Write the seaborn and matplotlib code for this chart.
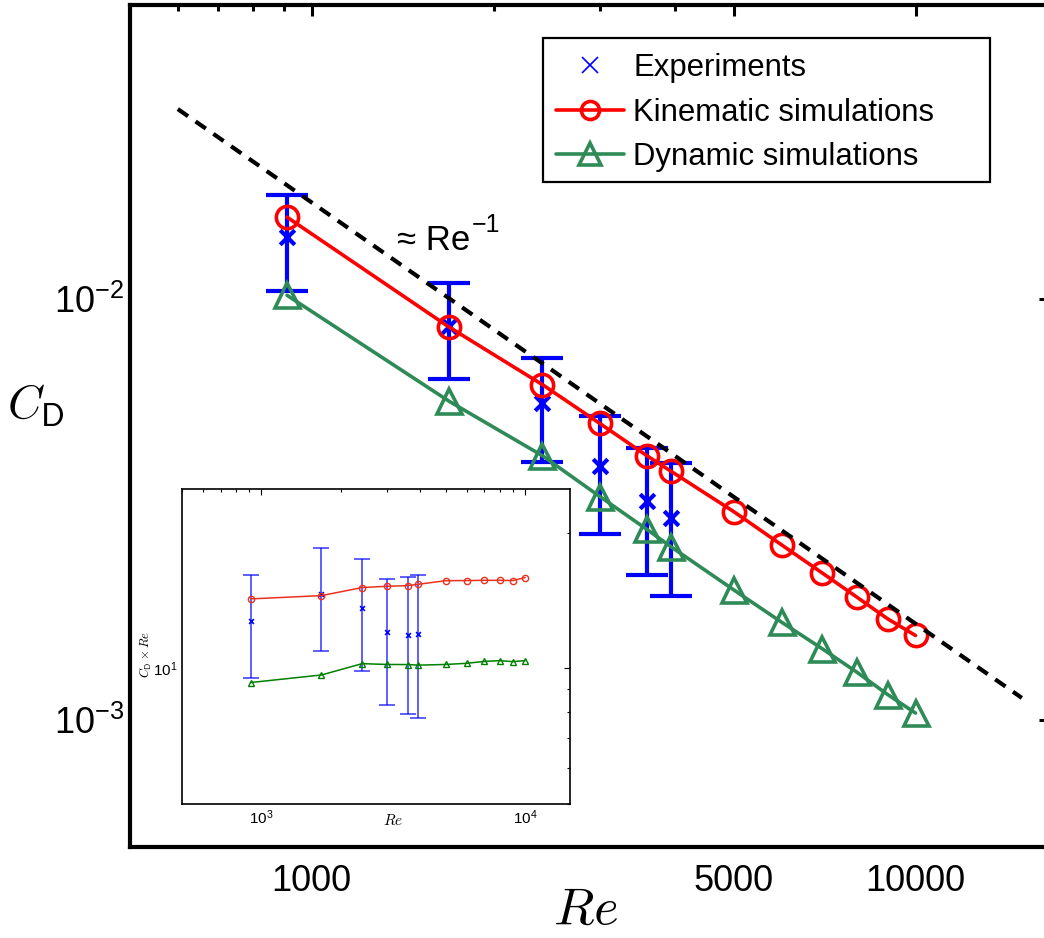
import numpy as np
import matplotlib
matplotlib.use("Agg")
import matplotlib.pyplot as plt
import seaborn as sns
from matplotlib.lines import Line2D
from matplotlib.patches import Rectangle
from matplotlib.ticker import FixedLocator, NullFormatter, FixedFormatter, LogLocator

# ---------------- data ----------------
re_sim = [910, 1690, 2410, 3000, 3590, 3940, 5000, 6000, 7000, 8000, 9000, 10000]
cd_kinematic = [0.01567, 0.00858, 0.00627, 0.00507, 0.00425, 0.00390,
                0.00313, 0.00261, 0.00224, 0.00196, 0.00174, 0.00159]
cd_dynamic = [0.01022, 0.00572, 0.00425, 0.00340, 0.00284, 0.00258,
              0.00204, 0.00171, 0.00148, 0.00130, 0.00115, 0.00104]

re_exp = [910, 1690, 2410, 3000, 3590, 3940]
cd_exp = [0.01403, 0.00864, 0.005655, 0.00401, 0.00331, 0.00303]
cd_exp_low = [0.01046, 0.00648, 0.00410, 0.00277, 0.00221, 0.00197]
cd_exp_high = [0.01771, 0.01092, 0.00724, 0.00527, 0.00444, 0.00409]

re_ref = [600, 15000]
cd_ref = [0.0283, 0.00113]

x_major = [1000, 5000, 10000]
x_major_labels = ["1000", "5000", "10000"]
x_minor = [600, 700, 800, 900, 2000, 3000, 4000]
y_major = [1e-3, 1e-2]
y_major_labels = [r"$10^{-3}$", r"$10^{-2}$"]

inset_x_major = [1000, 10000]
inset_x_labels = [r"$10^{3}$", r"$10^{4}$"]
inset_y_major = [10]
inset_y_labels = [r"$10^{1}$"]

legend_labels = ["Experiments", "Kinematic simulations", "Dynamic simulations"]
annot_base = "\u2248 Re"
annot_exp = "\u22121"

RED = "#ff0000"
GREEN = "#2e8b57"
BLUE = "#0000ff"

# ---------------- style ----------------
sns.set_theme(style="white")
plt.rcParams["font.family"] = ["Liberation Sans", "DejaVu Sans"]
plt.rcParams["mathtext.fontset"] = "custom"
plt.rcParams["mathtext.rm"] = "Liberation Sans"
plt.rcParams["mathtext.sf"] = "Liberation Sans"
plt.rcParams["mathtext.it"] = "Liberation Sans:italic"
plt.rcParams["mathtext.bf"] = "Liberation Sans:bold"
plt.rcParams["axes.unicode_minus"] = True
for key in ["text.color", "axes.labelcolor", "xtick.color", "ytick.color", "axes.edgecolor"]:
    plt.rcParams[key] = "black"

W, H = 1044, 938
fig = plt.figure(figsize=(W / 100, H / 100), dpi=100)
fig.patch.set_facecolor("white")


def fx(px):
    return px / W


def fy(py):
    return 1 - py / H


# ---------------- main axes ----------------
L, R, T, B = 130, 1050, 5, 847
ax = fig.add_axes([fx(L), fy(B), fx(R) - fx(L), fy(T) - fy(B)])
ax.set_xscale("log")
ax.set_yscale("log")
ax.set_xlim(500, 16700)
ax.set_ylim(5e-4, 5e-2)
ax.set_facecolor("white")

# experiments (error bars + crosses)
yerr = [np.array(cd_exp) - np.array(cd_exp_low), np.array(cd_exp_high) - np.array(cd_exp)]
ax.errorbar(re_exp, cd_exp, yerr=yerr, fmt="none", ecolor=BLUE,
            elinewidth=3, capsize=15, capthick=3, zorder=2)
sns.scatterplot(x=re_exp, y=cd_exp, ax=ax, marker="x", s=110, color=BLUE,
                linewidth=3, zorder=3, legend=False)

# simulations
sns.lineplot(x=re_sim, y=cd_kinematic, ax=ax, color=RED, linewidth=2.6,
             marker="o", markersize=16, markerfacecolor="none",
             markeredgecolor=RED, markeredgewidth=2.6, errorbar=None, zorder=4)
sns.lineplot(x=re_sim, y=cd_dynamic, ax=ax, color=GREEN, linewidth=2.6,
             marker="^", markersize=18, markerfacecolor="none",
             markeredgecolor=GREEN, markeredgewidth=2.6, errorbar=None, zorder=4)

# reference slope
sns.lineplot(x=re_ref, y=cd_ref, ax=ax, color="black", linewidth=3,
             linestyle=(0, (3.0, 2.2)), errorbar=None, zorder=5)

# ticks
ax.xaxis.set_major_locator(FixedLocator(x_major))
ax.xaxis.set_major_formatter(FixedFormatter(x_major_labels))
ax.xaxis.set_minor_locator(FixedLocator(x_minor))
ax.xaxis.set_minor_formatter(NullFormatter())
ax.yaxis.set_major_locator(FixedLocator(y_major))
ax.yaxis.set_major_formatter(FixedFormatter(y_major_labels))
ax.yaxis.set_minor_locator(LogLocator(base=10, subs=np.arange(2, 10)))
ax.yaxis.set_minor_formatter(NullFormatter())
ax.tick_params(axis="both", which="both", direction="in", top=True, right=True,
               colors="black", width=2.2)
ax.tick_params(axis="both", which="major", length=8, labelsize=26)
ax.tick_params(axis="both", which="minor", length=4)
ax.tick_params(axis="x", which="major", pad=12)
ax.tick_params(axis="y", which="major", pad=4)
for s in ax.spines.values():
    s.set_linewidth(3)
    s.set_color("black")

AW = fx(R) - fx(L)
AH = fy(T) - fy(B)
ax.set_xlabel(r"$Re$", fontsize=38, labelpad=0, math_fontfamily="cm")
ax.set_ylabel(r"$C_{\mathsf{D}}$", fontsize=34, rotation=0, labelpad=0, math_fontfamily="cm")
ax.yaxis.set_label_coords((fx(36) - fx(L)) / AW, (fy(406) - fy(B)) / AH)
ax.xaxis.set_label_coords((fx(585) - fx(L)) / AW, (fy(910) - fy(B)) / AH)
ax.xaxis.label.set_va("center")
ax.yaxis.label.set_va("center")
ax.yaxis.label.set_ha("center")

fig.text(fx(397), fy(250), annot_base, fontsize=25, ha="left", va="baseline")
fig.text(fx(472), fy(232), annot_exp, fontsize=18, ha="left", va="baseline")

# legend (manual frame)
handles = [
    Line2D([], [], linestyle="none", marker="x", color=BLUE, markersize=12, markeredgewidth=1.2),
    Line2D([], [], color=RED, linewidth=2.6, marker="o", markersize=13,
           markerfacecolor="none", markeredgecolor=RED, markeredgewidth=2.6),
    Line2D([], [], color=GREEN, linewidth=2.6, marker="^", markersize=16,
           markerfacecolor="none", markeredgecolor=GREEN, markeredgewidth=2.6),
]
leg = fig.legend(handles, legend_labels, loc="upper left",
                 bbox_to_anchor=(fx(556), fy(53)), bbox_transform=fig.transFigure,
                 frameon=False, fontsize=22.4, handlelength=2.2, handletextpad=0.28,
                 borderpad=0, borderaxespad=0, labelspacing=0.47)
for t in leg.get_texts():
    t.set_color("black")
fig.add_artist(Rectangle((fx(543), fy(182)), fx(990) - fx(543), fy(38) - fy(182),
                         transform=fig.transFigure, fill=False, edgecolor="black",
                         linewidth=1.6, zorder=10))

# ---------------- inset ----------------
IL, IR, IT, IB = 182, 570, 489, 804
axi = fig.add_axes([fx(IL), fy(IB), fx(IR) - fx(IL), fy(IT) - fy(IB)])
axi.set_xscale("log")
axi.set_yscale("log")
axi.set_xlim(500, 14800)
axi.set_ylim(5, 25)
axi.set_facecolor("white")

re_e = np.array(re_exp)
prod_exp = np.array(cd_exp) * re_e
prod_lo = np.array(cd_exp_low) * re_e
prod_hi = np.array(cd_exp_high) * re_e
axi.errorbar(re_exp, prod_exp, yerr=[prod_exp - prod_lo, prod_hi - prod_exp], fmt="none",
             ecolor=BLUE, elinewidth=1.1, capsize=6, capthick=1.1, alpha=0.8, zorder=2)
sns.scatterplot(x=re_exp, y=prod_exp, ax=axi, marker="x", s=12, color=BLUE,
                linewidth=1.2, zorder=3, legend=False)
sns.lineplot(x=re_sim, y=np.array(cd_kinematic) * np.array(re_sim), ax=axi,
             color="#e8321e", linewidth=1.1, marker="o", markersize=4.5,
             markerfacecolor="none", markeredgecolor="#e8321e", markeredgewidth=1.0,
             errorbar=None, zorder=4)
sns.lineplot(x=re_sim, y=np.array(cd_dynamic) * np.array(re_sim), ax=axi,
             color="#008000", linewidth=1.1, marker="^", markersize=5,
             markerfacecolor="none", markeredgecolor="#008000", markeredgewidth=1.0,
             errorbar=None, zorder=4)

axi.xaxis.set_major_locator(FixedLocator(inset_x_major))
axi.xaxis.set_major_formatter(FixedFormatter(inset_x_labels))
axi.xaxis.set_minor_locator(LogLocator(base=10, subs=np.arange(2, 10)))
axi.xaxis.set_minor_formatter(NullFormatter())
axi.yaxis.set_major_locator(FixedLocator(inset_y_major))
axi.yaxis.set_major_formatter(FixedFormatter(inset_y_labels))
axi.yaxis.set_minor_locator(LogLocator(base=10, subs=np.arange(2, 10)))
axi.yaxis.set_minor_formatter(NullFormatter())
axi.tick_params(axis="both", which="both", direction="in", top=True, right=True,
                colors="black", width=0.8)
axi.tick_params(axis="both", which="major", length=4, labelsize=11, pad=3)
axi.tick_params(axis="both", which="minor", length=2)
for s in axi.spines.values():
    s.set_linewidth(1.2)
    s.set_color("black")
IW = fx(IR) - fx(IL)
IH = fy(IT) - fy(IB)
axi.set_xlabel(r"$Re$", fontsize=11, math_fontfamily="cm")
axi.set_ylabel(r"$C_{\mathsf{D}}\times Re$", fontsize=9, math_fontfamily="cm")
axi.xaxis.set_label_coords((fx(393) - fx(IL)) / IW, (fy(820) - fy(IB)) / IH)
axi.xaxis.label.set_va("center")
axi.yaxis.set_label_coords((fx(146) - fx(IL)) / IW, (fy(655) - fy(IB)) / IH)
axi.yaxis.label.set_va("center")

fig.savefig("out.png", dpi=100, facecolor="white")
